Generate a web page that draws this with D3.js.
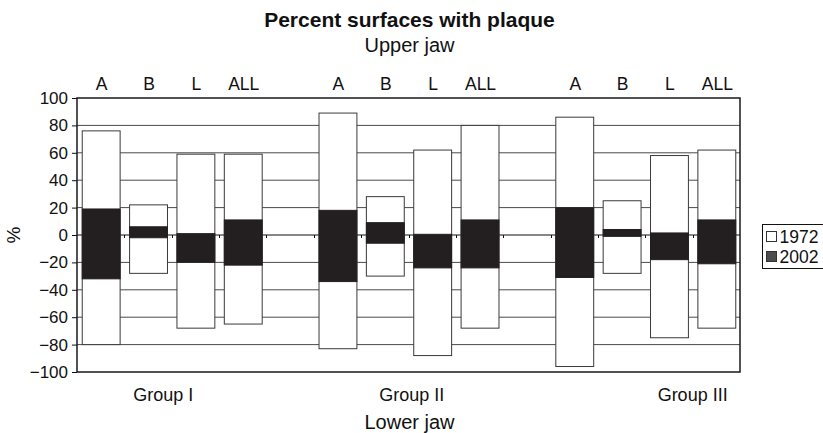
<!DOCTYPE html>
<html>
<head>
<meta charset="utf-8">
<script src="https://cdn.jsdelivr.net/npm/d3@7"></script>
<style>
  body { margin: 0; background: #fff; }
  svg { display: block; font-family: "Liberation Sans", Arial, sans-serif; }
  .grid line { stroke: #4a4a4a; stroke-width: 1; }
</style>
</head>
<body>
<svg id="chart" width="823" height="433"></svg>
<script>
const groups = ['Group I', 'Group II', 'Group III'];
const surfaces = ['A', 'B', 'L', 'ALL'];
const years = ['1972', '2002'];

// upper jaw plotted up, lower jaw plotted down (percent of surfaces)
const upper1972 = [76, 22, 59, 59, 89, 28, 62, 80, 86, 25, 58, 62];
const lower1972 = [-80, -28, -68, -65, -83, -30, -88, -68, -96, -28, -75, -68];
const upper2002 = [19, 6, 1, 11, 18, 9, 0.5, 11, 20, 4, 1.5, 11];
const lower2002 = [-32, -2, -20, -22, -34, -6, -24, -24, -31, -1, -18, -21];

const yTicks = [100, 80, 60, 40, 20, 0, -20, -40, -60, -80, -100];

const margin = { top: 98, right: 83, bottom: 61, left: 77 };
const width = 823 - margin.left - margin.right;
const height = 433 - margin.top - margin.bottom;

// one empty slot between groups, like the original category axis
const slots = [];
groups.forEach((g, gi) => {
  surfaces.forEach(s => slots.push(`${g}|${s}`));
  if (gi < groups.length - 1) slots.push(`gap${gi}`);
});

const data = [];
groups.forEach((g, gi) => {
  surfaces.forEach((s, si) => {
    const i = gi * surfaces.length + si;
    data.push({
      key: `${g}|${s}`, surface: s,
      up72: upper1972[i], lo72: lower1972[i],
      up02: upper2002[i], lo02: lower2002[i],
    });
  });
});

const svg = d3.select('#chart');
const chart = svg.append('g').attr('transform', `translate(${margin.left},${margin.top})`);

const x = d3.scaleBand().domain(slots).range([0, width]).paddingInner(0.2).paddingOuter(0.1);
const y = d3.scaleLinear().domain([-100, 100]).range([height, 0]);
const step = x.step();

// horizontal gridlines
chart.append('g').attr('class', 'grid')
  .selectAll('line').data(yTicks.filter(t => t !== 0 && Math.abs(t) !== 100)).enter()
  .append('line')
  .attr('x1', 0).attr('x2', width)
  .attr('y1', d => y(d)).attr('y2', d => y(d));

// zero line with category ticks
chart.append('line')
  .attr('x1', 0).attr('x2', width)
  .attr('y1', y(0)).attr('y2', y(0))
  .attr('stroke', '#111').attr('stroke-width', 1);

chart.append('g').selectAll('line').data(d3.range(1, slots.length)).enter()
  .append('line')
  .attr('x1', k => Math.round(k * step) + 0.5).attr('x2', k => Math.round(k * step) + 0.5)
  .attr('y1', y(0)).attr('y2', y(0) + 3)
  .attr('stroke', '#111');

// 1972 range (white) then 2002 range (black) on top
const bars = chart.append('g').selectAll('g').data(data).enter().append('g');

bars.append('rect')
  .attr('x', d => x(d.key) + 0.5)
  .attr('width', x.bandwidth())
  .attr('y', d => y(d.up72))
  .attr('height', d => y(d.lo72) - y(d.up72))
  .attr('fill', '#fff')
  .attr('stroke', '#3a3a3a').attr('stroke-width', 1);

bars.append('rect')
  .attr('x', d => x(d.key) + 0.5)
  .attr('width', x.bandwidth())
  .attr('y', d => y(d.up02))
  .attr('height', d => y(d.lo02) - y(d.up02))
  .attr('fill', '#231f20')
  .attr('stroke', '#231f20').attr('stroke-width', 1);

// plot frame
chart.append('rect')
  .attr('x', 0).attr('y', 0).attr('width', width).attr('height', height)
  .attr('fill', 'none').attr('stroke', '#1a1a1a').attr('stroke-width', 1.5);

// y axis
const yAxis = d3.axisLeft(y).tickValues(yTicks).tickSize(5).tickPadding(4)
  .tickFormat(d => d < 0 ? '\u2212' + Math.abs(d) : d);
const ya = chart.append('g').call(yAxis);
ya.select('.domain').remove();
ya.selectAll('.tick line').attr('stroke', '#111');
ya.selectAll('.tick text').attr('font-size', 17).attr('fill', '#111')
  .attr('font-family', '"Liberation Sans", Arial, sans-serif');

// surface labels on top
chart.append('g').selectAll('text').data(data).enter()
  .append('text')
  .attr('x', d => x(d.key) + x.bandwidth() / 2 + 1)
  .attr('y', -8)
  .attr('text-anchor', 'middle')
  .attr('font-size', 17.5).attr('fill', '#111')
  .text(d => d.surface);

// group labels below (placed as in the original, in slot units)
const groupLabelAt = [1.82, 7.07, 13.0];
chart.append('g').selectAll('text').data(groups).enter()
  .append('text')
  .attr('x', (d, i) => groupLabelAt[i] * step)
  .attr('y', height + 29)
  .attr('text-anchor', 'middle')
  .attr('font-size', 18).attr('fill', '#111')
  .text(d => d);

// titles
svg.append('text')
  .attr('x', margin.left + width / 2 + 1).attr('y', 27)
  .attr('text-anchor', 'middle').attr('font-size', 21).attr('font-weight', 'bold').attr('fill', '#111')
  .text('Percent surfaces with plaque');
svg.append('text')
  .attr('x', margin.left + width / 2 + 1).attr('y', 52)
  .attr('text-anchor', 'middle').attr('font-size', 20).attr('fill', '#111')
  .text('Upper jaw');
svg.append('text')
  .attr('x', margin.left + width / 2 + 1).attr('y', 429)
  .attr('text-anchor', 'middle').attr('font-size', 20).attr('fill', '#111')
  .text('Lower jaw');
svg.append('text')
  .attr('transform', `translate(20,${margin.top + y(0)}) rotate(-90)`)
  .attr('text-anchor', 'middle').attr('font-size', 19).attr('fill', '#111')
  .text('%');

// legend
const legend = svg.append('g').attr('transform', 'translate(762.5,224.5)');
legend.append('rect').attr('width', 64).attr('height', 44)
  .attr('fill', '#fff').attr('stroke', '#111');
const swatch = ['#fff', '#4d4d4d'];
years.forEach((yr, i) => {
  legend.append('rect')
    .attr('x', 4).attr('y', 7 + i * 20).attr('width', 10).attr('height', 10)
    .attr('fill', swatch[i]).attr('stroke', '#333');
  legend.append('text')
    .attr('x', 17).attr('y', 18 + i * 20)
    .attr('font-size', 17.5).attr('fill', '#111')
    .text(yr);
});
</script>
</body>
</html>
